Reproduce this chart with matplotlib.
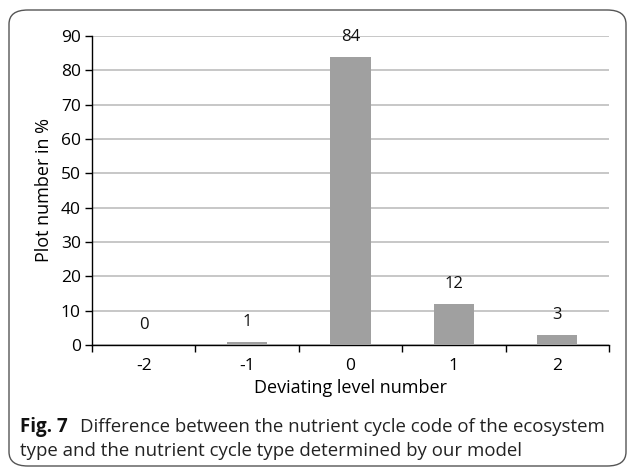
import matplotlib
matplotlib.use("Agg")
import matplotlib.pyplot as plt
from matplotlib.patches import FancyBboxPatch

categories = ["-2", "-1", "0", "1", "2"]
values = [0, 1, 84, 12, 3]
yticks = [0, 10, 20, 30, 40, 50, 60, 70, 80, 90]

plt.rcParams['font.family'] = ['Open Sans', 'DejaVu Sans']

W, H = 629, 470
fig = plt.figure(figsize=(W/100, H/100), dpi=100)
ax = fig.add_axes([92/W, 1-345/H, (609-92)/W, (345-36)/H])

x = list(range(len(categories)))
ax.bar(x, values, width=0.39, color='#a0a0a0', zorder=3)
for xi, v in zip(x, values):
    ax.annotate(str(v), (xi, v), xytext=(0, 20), textcoords='offset pixels',
                ha='center', va='center', fontsize=12, color='#111111')

ax.set_xlim(-0.5, len(categories)-0.5)
ax.set_ylim(0, 90)
ax.set_yticks(yticks)
ax.set_yticklabels([str(t) for t in yticks], fontsize=12.5)
ax.set_xticks(x)
ax.set_xticklabels(categories, fontsize=12.5)
ax.set_xticks([i-0.5 for i in range(len(categories)+1)], minor=True)
ax.tick_params(axis='x', which='major', length=0, pad=9)
ax.tick_params(axis='x', which='minor', length=5, direction='out', width=1)
ax.tick_params(axis='y', length=5, direction='out', width=1, pad=3)
ax.yaxis.grid(True, color='#bdbdbd', linewidth=1.2, zorder=0)
ax.set_axisbelow(True)
for s in ['top', 'right']:
    ax.spines[s].set_visible(False)
ax.spines['left'].set_linewidth(1)
ax.spines['bottom'].set_linewidth(1)
ax.set_ylabel('Plot number in %', fontsize=13, labelpad=6)
ax.set_xlabel('Deviating level number', fontsize=13, labelpad=4)

box = FancyBboxPatch((9/W, 4/H), (626-9)/W, (460-4)/H,
                     boxstyle='round,pad=0,rounding_size=0.03',
                     transform=fig.transFigure, fill=False,
                     edgecolor='#555555', linewidth=1.0)
fig.patches.append(box)

fig.text(20/W, 1-427/H, 'Fig. 7', fontsize=13.5, fontweight='bold',
         va='center', ha='left', color='#111111')
fig.text(80/W, 1-427/H, 'Difference between the nutrient cycle code of the ecosystem',
         fontsize=13.4, va='center', ha='left', color='#222222')
fig.text(20/W, 1-451/H, 'type and the nutrient cycle type determined by our model',
         fontsize=13.4, va='center', ha='left', color='#222222')

fig.savefig('out.png', dpi=100)
